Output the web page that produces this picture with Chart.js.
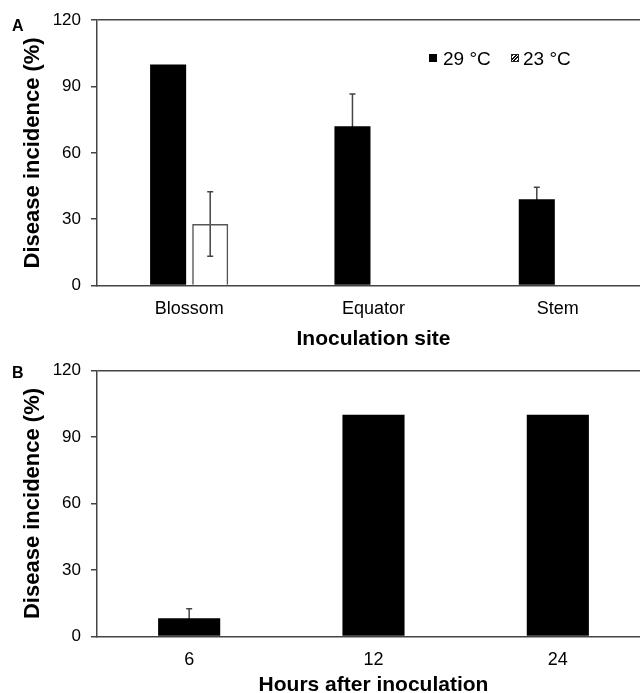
<!DOCTYPE html>
<html>
<head>
<meta charset="utf-8">
<script src="https://cdn.jsdelivr.net/npm/chart.js@4"></script>
<style>
  body { margin: 0; background: #fff; overflow: hidden; }
  #wrap { position: relative; width: 652px; height: 693px; font-family: "Liberation Sans", Arial, sans-serif; }
  #wrap canvas { position: absolute; left: 0; }
  .panel { position: absolute; left: 12px; font-weight: bold; font-size: 16px; line-height: 16px; }
  .leg { position: absolute; font-size: 19px; line-height: 19px; white-space: nowrap; }
  .box { position: absolute; width: 8px; height: 8px; box-sizing: border-box; }
</style>
</head>
<body>
<div id="wrap">
  <canvas id="chartA" width="652" height="352" style="top:0"></canvas>
  <canvas id="chartB" width="652" height="348" style="top:350px"></canvas>
  <div class="panel" style="top:18px">A</div>
  <div class="panel" style="top:365px">B</div>
  <div class="box" style="left:429px;top:54px;background:#000"></div>
  <div class="leg" style="left:443px;top:49px">29 °C</div>
  <div class="box" style="left:511px;top:54px;border:1px solid #222;background:repeating-linear-gradient(135deg,#111 0 1.2px,#fff 1.2px 2.4px)"></div>
  <div class="leg" style="left:523px;top:49px">23 °C</div>
</div>
<script>
// panel A: inoculation site
let sites = ["Blossom", "Equator", "Stem"];
let hot29 = [100, 72, 39];
let hot29Err = [0, 14.6, 5.4];
let cool23 = [27.8, null, null];
let cool23Err = [14.6, null, null];

// panel B: hours after inoculation
let hours = ["6", "12", "24"];
let incidence = [8.2, 100, 100];
let incidenceErr = [4.3, 0, 0];

let yTicks = [0, 30, 60, 90, 120];

Chart.defaults.font.family = "'Liberation Sans', Arial, sans-serif";
Chart.defaults.color = "#000";
Chart.defaults.animation = false;

// whiskers drawn under the bars, so black bars hide the lower half
const errorBars = {
  id: 'errorBars',
  beforeDatasetsDraw(chart) {
    const ctx = chart.ctx;
    const y = chart.scales.y;
    chart.data.datasets.forEach((ds, i) => {
      if (!ds.errors) return;
      chart.getDatasetMeta(i).data.forEach((bar, j) => {
        const v = ds.data[j], e = ds.errors[j];
        if (v == null || !e) return;
        const top = y.getPixelForValue(v + e);
        const bot = y.getPixelForValue(v - e);
        ctx.save();
        ctx.strokeStyle = '#444';
        ctx.lineWidth = 1.5;
        ctx.beginPath();
        ctx.moveTo(bar.x, top); ctx.lineTo(bar.x, bot);
        ctx.moveTo(bar.x - 3, top); ctx.lineTo(bar.x + 3, top);
        ctx.moveTo(bar.x - 3, bot); ctx.lineTo(bar.x + 3, bot);
        ctx.stroke();
        ctx.restore();
      });
    });
  }
};

function scales(xTitle, xHeight) {
  return {
    x: {
      grid: { display: true, color: 'transparent', drawTicks: false },
      border: { display: true, color: '#444', width: 1.5 },
      ticks: { font: { size: 18 }, padding: 13 },
      title: { display: true, text: xTitle, font: { size: 21, weight: 'bold' }, padding: 0 },
      afterFit: s => { s.height = xHeight; }
    },
    y: {
      min: 0, max: 120,
      afterBuildTicks: s => { s.ticks = yTicks.map(v => ({ value: v })); },
      grid: {
        color: c => c.tick && c.tick.value === 120 ? '#444' : 'transparent',
        lineWidth: 1.5, tickColor: '#444', tickLength: 6, tickWidth: 1.5
      },
      border: { display: true, color: '#444', width: 1.5 },
      ticks: { font: { size: 17 }, padding: 10 },
      title: { display: true, text: 'Disease incidence (%)', font: { size: 22, weight: 'bold' }, padding: { top: 20, bottom: 0 } },
      afterFit: s => { s.width = 97; }
    }
  };
}

new Chart(document.getElementById("chartA"), {
  type: 'bar',
  data: {
    labels: sites,
    datasets: [{
      label: "29 °C",
      data: hot29,
      errors: hot29Err,
      backgroundColor: "#000",
      borderWidth: 0
    }, {
      label: "23 °C",
      data: cool23,
      errors: cool23Err,
      backgroundColor: "rgba(255,255,255,0)",
      borderColor: "#555",
      borderWidth: 1.5
    }]
  },
  options: {
    responsive: false,
    devicePixelRatio: 1,
    categoryPercentage: 0.4565,
    barPercentage: 0.857,
    layout: { padding: { top: 20, right: 2, left: 0, bottom: 0 } },
    plugins: { legend: { display: false }, tooltip: { enabled: false } },
    scales: scales('Inoculation site', 66.5)
  },
  plugins: [errorBars]
});

new Chart(document.getElementById("chartB"), {
  type: 'bar',
  data: {
    labels: hours,
    datasets: [{
      label: "Disease incidence",
      data: incidence,
      errors: incidenceErr,
      backgroundColor: "#000",
      borderWidth: 0
    }]
  },
  options: {
    responsive: false,
    devicePixelRatio: 1,
    categoryPercentage: 1,
    barPercentage: 0.337,
    layout: { padding: { top: 20.5, right: 2, left: 0, bottom: 0 } },
    plugins: { legend: { display: false }, tooltip: { enabled: false } },
    scales: scales('Hours after inoculation', 61.5)
  },
  plugins: [errorBars]
});
</script>
</body>
</html>
